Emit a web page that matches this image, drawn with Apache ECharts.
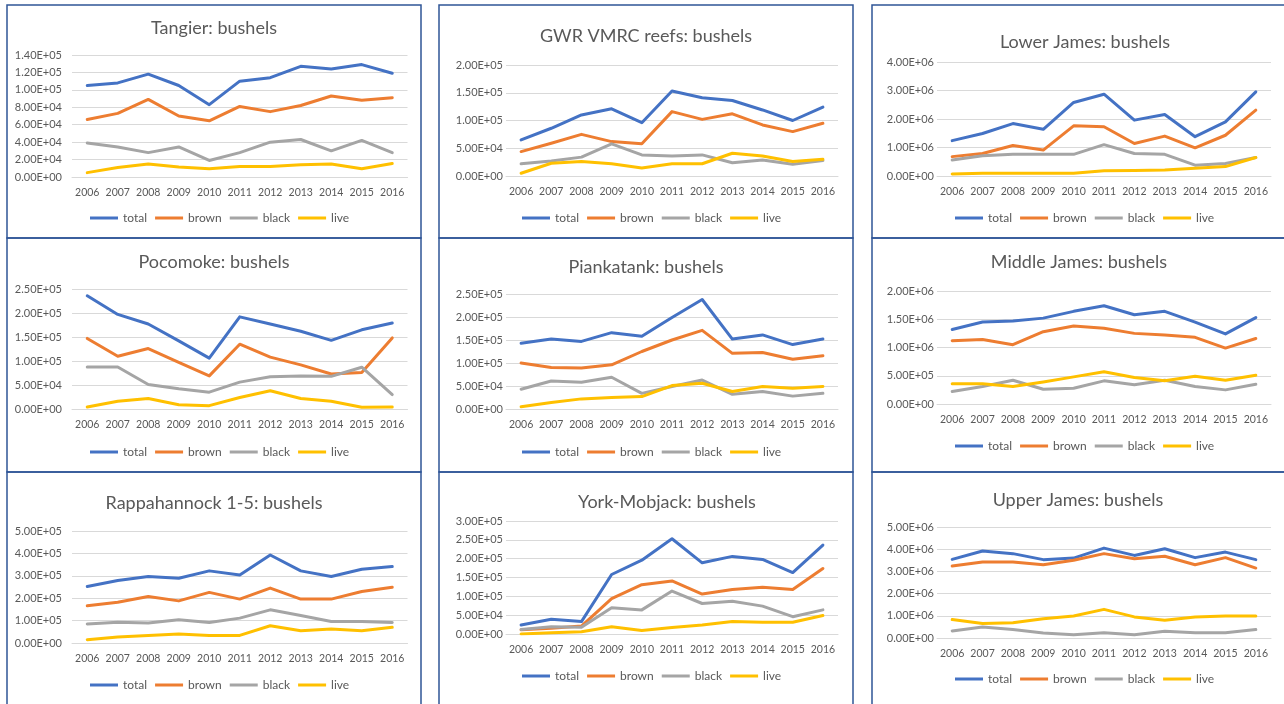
<!DOCTYPE html>
<html>
<head>
<meta charset="utf-8">
<script src="https://cdn.jsdelivr.net/npm/echarts@6/dist/echarts.min.js"></script>
<style>
  html, body { margin: 0; padding: 0; background: #fff; }
  #main { width: 1284px; height: 704px; }
</style>
</head>
<body>
<div id="main"></div>
<script>
// categories and series names
var years = ['2006', '2007', '2008', '2009', '2010', '2011', '2012', '2013', '2014', '2015', '2016'];
var seriesNames = ['total', 'brown', 'black', 'live'];

// each region: [total, brown, black, live]
var tangier = [
  [105000, 108000, 118000, 105000, 83000, 110000, 114000, 127000, 124000, 129000, 119000],
  [66000, 73000, 89000, 70000, 64500, 81000, 75000, 82000, 93000, 88000, 91000],
  [39000, 34500, 28000, 34500, 19000, 28000, 40000, 43000, 30000, 42000, 28000],
  [5000, 11000, 15000, 11500, 9500, 12000, 12000, 14000, 15000, 9500, 15500]
];
var gwrVmrc = [
  [65000, 86000, 110000, 121000, 96000, 153000, 141000, 136000, 119000, 100000, 124000],
  [44000, 59000, 75000, 62000, 58000, 116000, 102000, 112000, 92000, 80000, 95000],
  [22000, 27000, 34000, 58000, 38000, 36000, 38000, 24000, 29000, 21000, 28000],
  [5000, 23000, 26000, 22000, 14500, 22000, 22000, 41000, 36000, 26000, 30000]
];
var lowerJames = [
  [1240000, 1490000, 1840000, 1640000, 2580000, 2870000, 1960000, 2160000, 1380000, 1900000, 2950000],
  [680000, 790000, 1070000, 910000, 1760000, 1730000, 1140000, 1400000, 990000, 1430000, 2310000],
  [560000, 710000, 760000, 760000, 760000, 1100000, 790000, 760000, 380000, 440000, 650000],
  [70000, 100000, 100000, 100000, 100000, 180000, 190000, 210000, 270000, 330000, 650000]
];
var pocomoke = [
  [236000, 197000, 177000, 142000, 106000, 192000, 177000, 162000, 143000, 165000, 179000],
  [147000, 110000, 126000, 97000, 69000, 135000, 108000, 92000, 73000, 76000, 148000],
  [87500, 87500, 51000, 42000, 35000, 56000, 67000, 69000, 68000, 87000, 30000],
  [4000, 16000, 22000, 9000, 7000, 24000, 38000, 22000, 16000, 3500, 4000]
];
var piankatank = [
  [143000, 152000, 147000, 166000, 158000, 199000, 238000, 152000, 161000, 140000, 152000],
  [100000, 90000, 89000, 96000, 125000, 150000, 171000, 121000, 123000, 108000, 116000],
  [43000, 61000, 58000, 69000, 34000, 49000, 63000, 32000, 38000, 28000, 34000],
  [5000, 14000, 22000, 25000, 27000, 51000, 56000, 38000, 49000, 45000, 49000]
];
var middleJames = [
  [1320000, 1450000, 1470000, 1520000, 1640000, 1740000, 1580000, 1640000, 1450000, 1240000, 1530000],
  [1120000, 1140000, 1050000, 1280000, 1380000, 1340000, 1250000, 1220000, 1180000, 990000, 1160000],
  [220000, 310000, 420000, 260000, 280000, 410000, 340000, 420000, 310000, 250000, 350000],
  [360000, 360000, 310000, 390000, 480000, 570000, 470000, 410000, 490000, 420000, 510000]
];
var rappahannock = [
  [252000, 279000, 297000, 289000, 322000, 304000, 393000, 322000, 297000, 329000, 341000],
  [166000, 182000, 208000, 188000, 226000, 196000, 245000, 196000, 196000, 230000, 249000],
  [85000, 93000, 89000, 104000, 92000, 111000, 148000, 123000, 96000, 96000, 92000],
  [15000, 27000, 34000, 40000, 34000, 34000, 77000, 55000, 62000, 55000, 70000]
];
var yorkMobjack = [
  [24000, 39000, 33000, 158000, 196000, 253000, 189000, 206000, 198000, 163000, 236000],
  [11000, 15000, 21000, 94000, 131000, 141000, 106000, 118000, 124000, 118000, 174000],
  [12000, 19000, 18000, 70000, 64000, 114000, 81000, 87000, 74000, 46000, 64000],
  [0, 3500, 6000, 19000, 9000, 17000, 24000, 33000, 31000, 31000, 49000]
];
var upperJames = [
  [3540000, 3920000, 3800000, 3530000, 3600000, 4050000, 3720000, 4020000, 3620000, 3870000, 3530000],
  [3240000, 3420000, 3420000, 3300000, 3500000, 3800000, 3570000, 3680000, 3300000, 3620000, 3150000],
  [320000, 500000, 380000, 230000, 150000, 240000, 150000, 300000, 240000, 240000, 380000],
  [830000, 650000, 690000, 870000, 990000, 1290000, 950000, 800000, 950000, 990000, 990000]
];

var colors = ['#4472C4', '#ED7D31', '#A5A5A5', '#FFC000'];
var textColor = '#595959';
var font = 'Lato';

// panel layout: grid [left, top, width, height], title centre, legend start
var panels = [
  { title: 'Tangier: bushels', data: tangier, max: 140000, step: 20000, grid: [72, 55, 335.5, 122], tc: [214, 27], lg: [90, 219], ym: 10 },
  { title: 'GWR VMRC reefs: bushels', data: gwrVmrc, max: 200000, step: 50000, grid: [506, 65, 332, 111], tc: [646, 35], lg: [522, 219], ym: 3 },
  { title: 'Lower James: bushels', data: lowerJames, max: 4000000, step: 1000000, grid: [937, 62, 334, 114], tc: [1085, 41], lg: [955, 219], ym: 3 },
  { title: 'Pocomoke: bushels', data: pocomoke, max: 250000, step: 50000, grid: [72, 289, 335.5, 120], tc: [214, 261], lg: [90, 453], ym: 10 },
  { title: 'Piankatank: bushels', data: piankatank, max: 250000, step: 50000, grid: [506, 294, 332, 115], tc: [646, 266], lg: [522, 453], ym: 3 },
  { title: 'Middle James: bushels', data: middleJames, max: 2000000, step: 500000, grid: [937, 291, 334, 113], tc: [1079, 261], lg: [955, 447], ym: 3 },
  { title: 'Rappahannock 1-5: bushels', data: rappahannock, max: 500000, step: 100000, grid: [72, 531, 335.5, 112], tc: [214, 502], lg: [90, 686], ym: 10 },
  { title: 'York-Mobjack: bushels', data: yorkMobjack, max: 300000, step: 50000, grid: [506, 521, 332, 113], tc: [667, 501], lg: [522, 677], ym: 3 },
  { title: 'Upper James: bushels', data: upperJames, max: 5000000, step: 1000000, grid: [937, 527, 334, 111], tc: [1078, 499], lg: [955, 680], ym: 3 }
];

var titleSize = 18;
var measure = document.createElement('canvas').getContext('2d');
measure.font = titleSize + 'px ' + font;

function sci(v) {
  var s = Number(v).toExponential(2).toUpperCase();
  return s.replace(/E([+-])(\d+)$/, function (m, sign, exp) {
    return 'E' + sign + (exp.length < 2 ? '0' + exp : exp);
  });
}

var option = {
  backgroundColor: '#fff',
  animation: false,
  color: colors,
  title: [],
  legend: [],
  grid: [],
  xAxis: [],
  yAxis: [],
  series: [],
  graphic: []
};

panels.forEach(function (p, i) {
  var w = measure.measureText(p.title).width;
  option.title.push({
    text: p.title,
    left: p.tc[0] - w / 2,
    top: p.tc[1] - 8,
    padding: 0,
    textStyle: { fontFamily: font, fontSize: titleSize, fontWeight: 'normal', color: textColor }
  });
  option.legend.push({
    data: seriesNames,
    left: p.lg[0],
    top: p.lg[1] - 7,
    padding: 0,
    icon: 'rect',
    itemWidth: 28,
    itemHeight: 3,
    itemGap: 8,
    textStyle: { fontFamily: font, fontSize: 12, color: textColor }
  });
  option.grid.push({ left: p.grid[0], top: p.grid[1], width: p.grid[2], height: p.grid[3], containLabel: false });
  option.xAxis.push({
    type: 'category',
    gridIndex: i,
    data: years,
    boundaryGap: true,
    axisLine: { lineStyle: { color: '#d9d9d9', width: 1 } },
    axisTick: { show: false },
    axisLabel: { color: textColor, fontFamily: font, fontSize: 10.5, margin: 10, interval: 0 }
  });
  option.yAxis.push({
    type: 'value',
    gridIndex: i,
    min: 0,
    max: p.max,
    interval: p.step,
    axisLine: { show: false },
    axisTick: { show: false },
    splitLine: { lineStyle: { color: '#d9d9d9', width: 1 } },
    axisLabel: { color: textColor, fontFamily: font, fontSize: 11, margin: p.ym, formatter: sci }
  });
  p.data.forEach(function (vals, k) {
    option.series.push({
      name: seriesNames[k],
      type: 'line',
      xAxisIndex: i,
      yAxisIndex: i,
      data: vals,
      symbol: 'none',
      lineStyle: { width: 3, color: colors[k], cap: 'round', join: 'round' },
      itemStyle: { color: colors[k] }
    });
  });
});

// chart frames
var cols = [[7, 421], [439, 853], [872, 1290]];
var rows = [[5, 238], [238, 472], [472, 712]];
rows.forEach(function (r) {
  cols.forEach(function (c) {
    option.graphic.push({
      type: 'rect',
      silent: true,
      shape: { x: c[0], y: r[0], width: c[1] - c[0], height: r[1] - r[0] },
      style: { fill: 'none', stroke: '#2F5597', lineWidth: 1.5 }
    });
  });
});

var chart = echarts.init(document.getElementById('main'), null, { renderer: 'canvas' });
chart.setOption(option);
</script>
</body>
</html>
